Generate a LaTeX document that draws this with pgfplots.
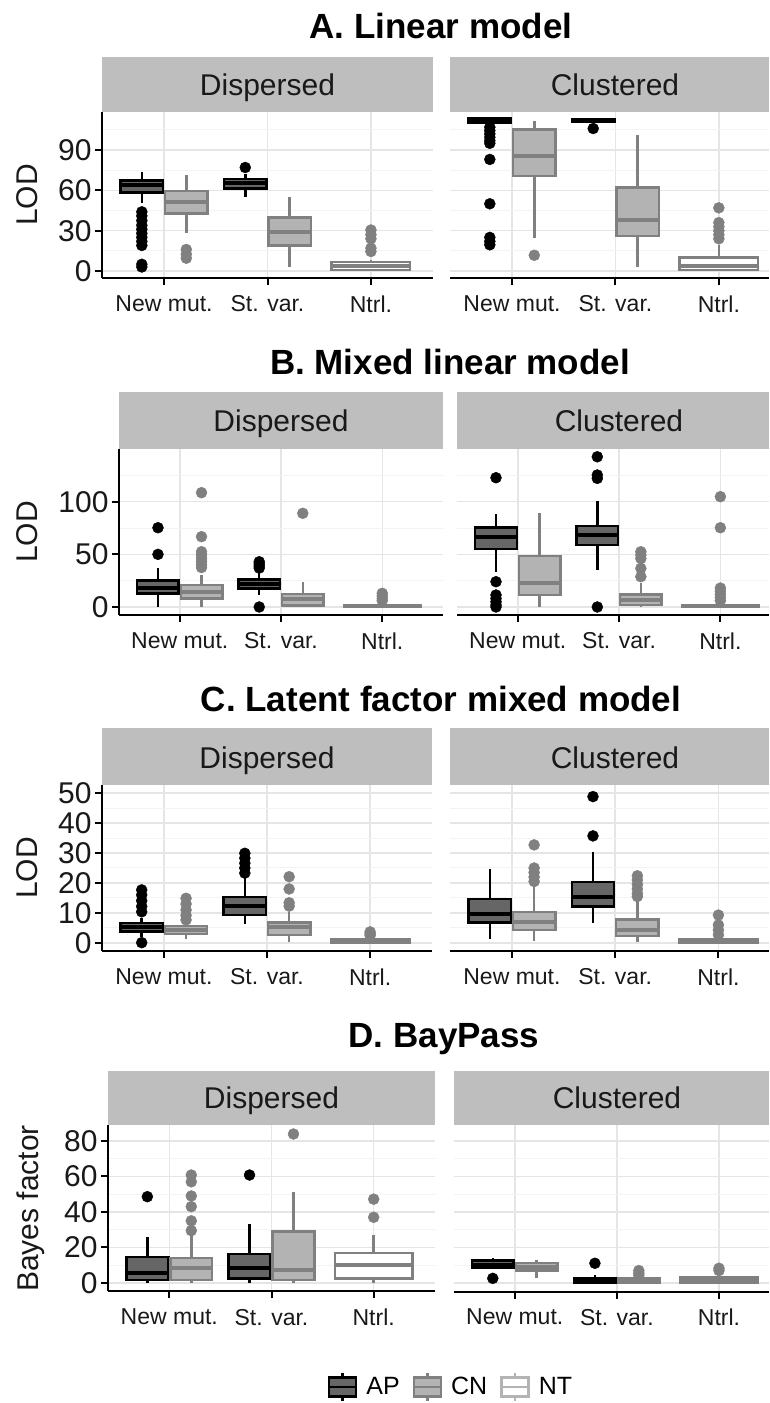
\documentclass[border=0pt]{standalone}
\usepackage{fontspec}
\setmainfont{Liberation Sans}
\usepackage{pgfplots}
\pgfplotsset{compat=1.18}
\usepgfplotslibrary{statistics}

\definecolor{apfill}{RGB}{102,102,102}
\definecolor{cnfill}{RGB}{179,179,179}
\definecolor{cngray}{RGB}{128,128,128}
\definecolor{stripgray}{RGB}{190,190,190}
\definecolor{gridmaj}{RGB}{229,229,229}
\definecolor{gridmin}{RGB}{243,243,243}

% box: style, position, width, lower whisker, q1, median, q3, upper whisker
\newcommand{\bx}[8]{\addplot[#1, forget plot, boxplot prepared={draw direction=y,
  draw position=#2, box extend=#3,
  lower whisker=#4, lower quartile=#5, median=#6, upper quartile=#7, upper whisker=#8,
  whisker extend=0}] coordinates {};}

\pgfplotsset{
  panel/.style={scale only axis, height=166pt, xmin=0.4, xmax=3.6,
    axis x line*=bottom, axis y line*=left, separate axis lines,
    axis line style={line width=2pt, black},
    tick align=outside, major tick length=7pt, minor tick length=0pt,
    tick style={line width=2pt, black},
    xtick={1,2,3}, xticklabels={New mut., St. var., Ntrl.},
    xmajorgrids, ymajorgrids, yminorgrids,
    major grid style={gridmaj, line width=1.5pt},
    minor grid style={gridmin, line width=1pt},
    xticklabel style={font=\fontsize{23}{23}\selectfont, text=black!90, yshift=-7pt},
    yticklabel style={font=\fontsize{30}{30}\selectfont, text=black!90},
    /pgf/number format/assume math mode=true,
    clip=false},
  rpanel/.style={panel, y axis line style={draw=none}, ytick style={draw=none},
    yticklabel style={opacity=0}},
  ap/.style={draw=black, fill=apfill, line width=2.5pt, boxplot/every median/.style={line width=4pt}},
  cn/.style={draw=cngray, fill=cnfill, line width=2.5pt, boxplot/every median/.style={line width=4pt}},
  nt/.style={draw=cngray, fill=white, line width=2.5pt, boxplot/every median/.style={line width=4pt}},
  apo/.style={only marks, mark=*, mark size=5.5pt, black, forget plot},
  cno/.style={only marks, mark=*, mark size=5.5pt, cngray, forget plot},
}

\begin{document}
\begin{tikzpicture}
\useasboundingbox (0pt,0pt) rectangle (769pt,1403pt);

% ---------- strips ----------
\fill[stripgray] (102pt,1291pt) rectangle (433pt,1346pt);
\fill[stripgray] (450pt,1291pt) rectangle (769pt,1346pt);
\fill[stripgray] (119pt,954pt) rectangle (443pt,1011pt);
\fill[stripgray] (457pt,954pt) rectangle (769pt,1011pt);
\fill[stripgray] (102pt,618pt) rectangle (432pt,675pt);
\fill[stripgray] (450pt,618pt) rectangle (769pt,675pt);
\fill[stripgray] (108pt,277.5pt) rectangle (435pt,332pt);
\fill[stripgray] (453.5pt,277.5pt) rectangle (769pt,332pt);

% ---------- A. Linear model ----------
\begin{axis}[panel, at={(102pt,1125pt)}, anchor=south west, width=331pt,
  ymin=-5.2, ymax=118.3, ytick={0,30,60,90}, minor ytick={15,45,75,105}]
\bx{ap}{0.785}{0.41}{50.8}{58.5}{64}{67.2}{73.9}
\bx{cn}{1.215}{0.41}{28.5}{42.9}{51.5}{59.7}{71.4}
\bx{ap}{1.785}{0.41}{55.3}{61.5}{65.2}{68.4}{72.5}
\bx{cn}{2.215}{0.41}{2.7}{18.8}{29.2}{39.9}{54.8}
\bx{nt}{3}{0.76}{0}{0.7}{3.7}{6.7}{8.5}
\addplot[apo] coordinates {(0.785,44) (0.785,41) (0.785,37.5) (0.785,34) (0.785,31) (0.785,28) (0.785,25) (0.785,22) (0.785,19) (0.785,5) (0.785,3)};
\addplot[cno] coordinates {(1.215,16) (1.215,12.5) (1.215,9.5)};
\addplot[apo] coordinates {(1.785,77)};
\addplot[cno] coordinates {(3,30.5) (3,27) (3,24) (3,17) (3,14.5)};
\end{axis}
\begin{axis}[rpanel, at={(450pt,1125pt)}, anchor=south west, width=319pt, xmax=3.485,
  ymin=-5.2, ymax=118.3, ytick={0,30,60,90}, minor ytick={15,45,75,105}]
\bx{ap}{0.785}{0.41}{109.5}{110.5}{112}{113.5}{114}
\bx{cn}{1.215}{0.41}{24.9}{70.6}{85.8}{105.4}{111.9}
\bx{ap}{1.785}{0.41}{110.5}{111}{112}{113}{113.5}
\bx{cn}{2.215}{0.41}{3}{26.1}{38.3}{62.1}{101.2}
\bx{nt}{3}{0.76}{0}{0.7}{4}{10}{19.3}
\addplot[apo] coordinates {(0.785,107) (0.785,104.5) (0.785,102) (0.785,99.5) (0.785,97) (0.785,95) (0.785,83) (0.785,50) (0.785,25) (0.785,22) (0.785,19.5)};
\addplot[cno] coordinates {(1.215,11.7)};
\addplot[apo] coordinates {(1.785,106)};
\addplot[cno] coordinates {(3,47) (3,36) (3,33) (3,30) (3,27) (3,24)};
\end{axis}

% ---------- B. Mixed linear model ----------
\begin{axis}[panel, at={(119pt,788pt)}, anchor=south west, width=324pt,
  ymin=-7.6, ymax=150.1, ytick={0,50,100}, minor ytick={25,75,125}]
\bx{ap}{0.785}{0.41}{0}{13}{18}{25}{36.7}
\bx{cn}{1.215}{0.41}{0}{8.2}{14.6}{20.9}{30.4}
\bx{ap}{1.785}{0.41}{11.4}{17.8}{21.8}{26.3}{33.5}
\bx{cn}{2.215}{0.41}{0}{1.3}{7.3}{12.3}{24}
\bx{nt}{3}{0.76}{0}{0}{0.5}{1.9}{4.5}
\addplot[apo] coordinates {(0.785,75.3) (0.785,50)};
\addplot[cno] coordinates {(1.215,108.6) (1.215,66.8) (1.215,52.5) (1.215,49.5) (1.215,46.5) (1.215,43.5) (1.215,40.5) (1.215,37.5)};
\addplot[apo] coordinates {(1.785,43) (1.785,41) (1.785,39) (1.785,37) (1.785,0)};
\addplot[cno] coordinates {(2.215,89)};
\addplot[cno] coordinates {(3,13) (3,10.5) (3,8) (3,6)};
\end{axis}
\begin{axis}[rpanel, at={(457pt,788pt)}, anchor=south west, width=312pt, xmax=3.48,
  ymin=-7.6, ymax=150.1, ytick={0,50,100}, minor ytick={25,75,125}]
\bx{ap}{0.785}{0.41}{33.5}{55.1}{66.8}{75.3}{88.3}
\bx{cn}{1.215}{0.41}{0}{11.4}{22.5}{48.4}{89.6}
\bx{ap}{1.785}{0.41}{35.1}{58.9}{68.4}{76.9}{101}
\bx{cn}{2.215}{0.41}{0}{1.9}{6.6}{12.1}{22.5}
\bx{nt}{3}{0.76}{0}{0}{0.5}{1.9}{4.5}
\addplot[apo] coordinates {(0.785,122.8) (0.785,24) (0.785,11.4) (0.785,8) (0.785,5) (0.785,2) (0.785,0)};
\addplot[apo] coordinates {(1.785,142.7) (1.785,125.4) (1.785,122.2) (1.785,0)};
\addplot[cno] coordinates {(2.215,52.5) (2.215,49.5) (2.215,46) (2.215,36.7) (2.215,28.8)};
\addplot[cno] coordinates {(3,104.8) (3,75.3) (3,18) (3,15) (3,12) (3,9) (3,6)};
\end{axis}

% ---------- C. Latent factor mixed model ----------
\begin{axis}[panel, at={(102pt,452pt)}, anchor=south west, width=330pt,
  ymin=-2.67, ymax=52.67, ytick={0,10,20,30,40,50}, minor ytick={5,15,25,35,45}]
\bx{ap}{0.785}{0.41}{2.1}{3.8}{5.2}{6.6}{8.2}
\bx{cn}{1.215}{0.41}{1.2}{3.0}{4.3}{5.7}{6.6}
\bx{ap}{1.785}{0.41}{6.3}{9.3}{12.4}{15.4}{22.1}
\bx{cn}{2.215}{0.41}{0.4}{2.7}{5.4}{6.8}{10.4}
\bx{nt}{3}{0.76}{0}{0}{0.5}{1.2}{2}
\addplot[apo] coordinates {(0.785,17.7) (0.785,16) (0.785,14.1) (0.785,12.2) (0.785,10.4) (0.785,0.1)};
\addplot[cno] coordinates {(1.215,14.9) (1.215,13) (1.215,11) (1.215,9.2) (1.215,7.7)};
\addplot[apo] coordinates {(1.785,29.9) (1.785,28.3) (1.785,26.6) (1.785,25) (1.785,23.3)};
\addplot[cno] coordinates {(2.215,22.1) (2.215,18) (2.215,13.4) (2.215,12.3)};
\addplot[cno] coordinates {(3,3.7) (3,3) (3,2.5)};
\end{axis}
\begin{axis}[rpanel, at={(450pt,452pt)}, anchor=south west, width=319pt, xmax=3.49,
  ymin=-2.67, ymax=52.67, ytick={0,10,20,30,40,50}, minor ytick={5,15,25,35,45}]
\bx{ap}{0.785}{0.41}{1.2}{6.8}{9.7}{14.6}{24.6}
\bx{cn}{1.215}{0.41}{0.8}{4.3}{7.1}{10.4}{19.5}
\bx{ap}{1.785}{0.41}{6.8}{12.1}{15.2}{20.4}{30.4}
\bx{cn}{2.215}{0.41}{0.4}{2.3}{4.3}{7.9}{14.9}
\bx{nt}{3}{0.76}{0}{0}{0.5}{1.2}{2}
\addplot[cno] coordinates {(1.215,32.7) (1.215,25) (1.215,23.5) (1.215,22) (1.215,20.5)};
\addplot[apo] coordinates {(1.785,48.8) (1.785,35.7)};
\addplot[cno] coordinates {(2.215,22.4) (2.215,21) (2.215,19.5) (2.215,18) (2.215,16.5) (2.215,15.5)};
\addplot[cno] coordinates {(3,9.3) (3,6) (3,4.3) (3,2.7)};
\end{axis}

% ---------- D. BayPass ----------
\begin{axis}[panel, at={(108pt,111.5pt)}, anchor=south west, width=327pt,
  ymin=-4.8, ymax=88.7, ytick={0,20,40,60,80}, minor ytick={10,30,50,70}]
\bx{ap}{0.785}{0.41}{0}{1.7}{5.8}{14.5}{25.7}
\bx{cn}{1.215}{0.41}{0}{1.7}{8.3}{14}{27}
\bx{ap}{1.785}{0.41}{0}{2.6}{8.3}{16.2}{33.2}
\bx{cn}{2.215}{0.41}{0}{1.7}{7.3}{28.9}{51.4}
\bx{nt}{3}{0.76}{0}{2.4}{10}{16.8}{27}
\addplot[apo] coordinates {(0.785,48.6)};
\addplot[cno] coordinates {(1.215,60.8) (1.215,57) (1.215,49) (1.215,43) (1.215,35) (1.215,29.5)};
\addplot[apo] coordinates {(1.785,60.8)};
\addplot[cno] coordinates {(2.215,83.9)};
\addplot[cno] coordinates {(3,47.2) (3,37)};
\end{axis}
\begin{axis}[rpanel, at={(453.5pt,111.5pt)}, anchor=south west, width=315.5pt, xmax=3.49,
  ymin=-4.8, ymax=88.7, ytick={0,20,40,60,80}, minor ytick={10,30,50,70},
  legend columns=3,
  legend style={at={(-0.008,-0.575)}, anchor=center, draw=none, fill=none,
    font=\fontsize{25}{25}\selectfont,
    /tikz/every odd column/.append style={column sep=7pt},
    /tikz/every even column/.append style={column sep=11pt}},
  legend image code/.code={
    \draw[#1] (0pt,-9.5pt) rectangle (27pt,9.5pt);
    \draw[#1] (0pt,0pt) -- (27pt,0pt);
    \draw[#1] (13.5pt,9.5pt) -- (13.5pt,14pt) (13.5pt,-9.5pt) -- (13.5pt,-14pt);}]
\bx{ap}{0.785}{0.41}{8}{8.3}{10.4}{12.6}{14}
\bx{cn}{1.215}{0.41}{3}{6.9}{9}{11.2}{13}
\bx{ap}{1.785}{0.41}{0}{0}{1}{2.6}{4.3}
\bx{cn}{2.215}{0.41}{0}{0}{1}{2.5}{3.5}
\bx{nt}{3}{0.76}{0}{0}{1}{3}{4}
\addplot[apo] coordinates {(0.785,2.6)};
\addplot[apo] coordinates {(1.785,11.1)};
\addplot[cno] coordinates {(2.215,7) (2.215,5.5) (2.215,4.3)};
\addplot[cno] coordinates {(3,8.3) (3,7)};
\addlegendimage{draw=black, fill=apfill, line width=2.5pt}
\addlegendentry{AP}
\addlegendimage{draw=cngray, fill=cnfill, line width=2.5pt}
\addlegendentry{CN}
\addlegendimage{draw=cngray!60, fill=white, line width=2.5pt}
\addlegendentry{NT}
\end{axis}

% ---------- titles, strip texts, y labels ----------
\begin{scope}[font=\bfseries\fontsize{35}{35}\selectfont]
\node[anchor=base] at (441pt,1364pt) {A. Linear model};
\node[anchor=base] at (450pt,1028pt) {B. Mixed linear model};
\node[anchor=base] at (441pt,691pt) {C. Latent factor mixed model};
\node[anchor=base] at (444pt,355pt) {D. BayPass};
\end{scope}
\begin{scope}[font=\fontsize{30}{30}\selectfont, text=black!90]
\node[anchor=base] at (267.5pt,1307pt) {Dispersed};
\node[anchor=base] at (615pt,1307pt) {Clustered};
\node[anchor=base] at (281pt,971pt) {Dispersed};
\node[anchor=base] at (619pt,971pt) {Clustered};
\node[anchor=base] at (267pt,634pt) {Dispersed};
\node[anchor=base] at (615pt,634pt) {Clustered};
\node[anchor=base] at (271.5pt,294pt) {Dispersed};
\node[anchor=base] at (617pt,294pt) {Clustered};
\node[anchor=base, rotate=90] at (37pt,1208pt) {LOD};
\node[anchor=base, rotate=90] at (37pt,871pt) {LOD};
\node[anchor=base, rotate=90] at (37pt,535pt) {LOD};
\node[anchor=base, rotate=90] at (38.5pt,194.5pt) {Bayes factor};
\end{scope}
\end{tikzpicture}
\end{document}
